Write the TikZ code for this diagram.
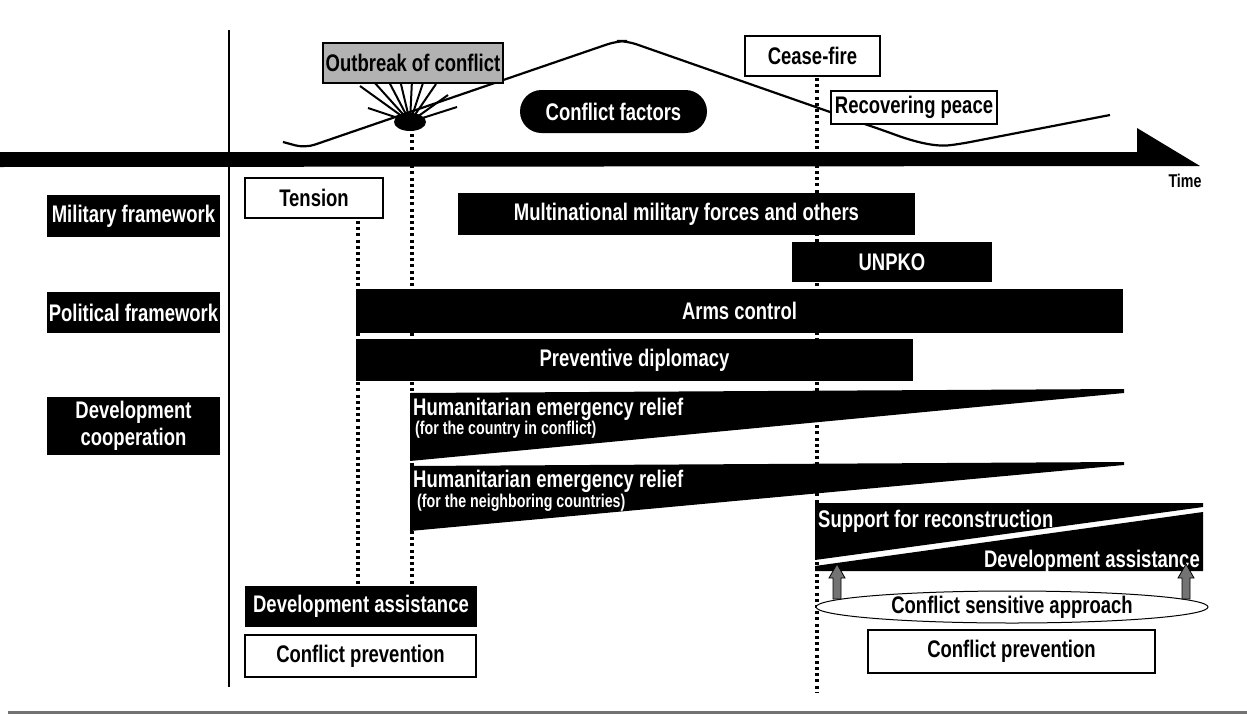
\documentclass[tikz,border=0pt]{standalone}
\usepackage{fontspec}
\setmainfont{Liberation Sans}[FakeStretch=0.77]
\usetikzlibrary{shapes.geometric}
\begin{document}
\begin{tikzpicture}[x=1pt,y=-1pt,
  every node/.style={font=\bfseries\fontsize{24}{27}\selectfont, inner sep=0pt},
  blk/.style={fill=black, text=white},
  wbox/.style={draw=black, line width=1.2pt, fill=white, text=black},
  dotline/.style={line width=3.6pt, dash pattern=on 3pt off 3.2pt, black},
  curveline/.style={line width=2.2pt, rounded corners=10pt},
  ray/.style={line width=2pt},
  wedge/.style={fill=black},
  small/.style={font=\bfseries\fontsize{18.5}{21}\selectfont},
  blockarrow/.style={fill=black!55, draw=black, line width=0.8pt}
]
\useasboundingbox (0,0) rectangle (1247,715);
\fill[white] (0,0) rectangle (1247,715);

% axes
\coordinate (axt) at (229,30); \coordinate (axb) at (229,687);
\draw[line width=2pt] (axt) -- (axb);
\coordinate (bl) at (8,712); \coordinate (br) at (1247,712);
\draw[line width=3pt, black!55] (bl) -- (br);

% dotted guide lines
\coordinate (d1t) at (358,221); \coordinate (d1b) at (358,585);
\coordinate (d2t) at (412,128); \coordinate (d2b) at (412,585);
\coordinate (d3t) at (817,78);  \coordinate (d3b) at (817,693);
\draw[dotline] (d1t) -- (d1b);
\draw[dotline] (d2t) -- (d2b);
\draw[dotline] (d3t) -- (d3b);

% time arrow
\fill (0,152) -- (1137,152) -- (1137,128) -- (1200,166) -- (0,167) -- cycle;
\node[font=\bfseries\fontsize{18.5}{21}\selectfont] (time) at (1185,181) {Time};

% conflict curve
\draw[curveline] (283,142) -- (305,148) -- (617,41) -- (627,41) -- (830,112) -- (885,131)
  .. controls (915,142) and (935,147) .. (960,144) -- (1110,115);

% starburst
\coordinate (burst) at (410,122);
\foreach \ex/\ey in {360/86, 374/82, 388/80, 400/80, 412/80, 424/80, 436/84, 448/95, 457/107, 368/108}
  \draw[ray] (burst) -- (\ex,\ey);
\fill (burst) ellipse [x radius=16, y radius=9];

% top labels
\node[draw=black, line width=1.2pt, fill=black!30, minimum width=180, minimum height=40] (outbreak) at (413,63) {Outbreak of conflict};
\node[blk, rounded corners=21.5pt, minimum width=187, minimum height=43] (factors) at (613.5,111.5) {Conflict factors};
\node[wbox, minimum width=135, minimum height=40] (cease) at (812.5,56) {Cease-fire};
\node[wbox, minimum width=166, minimum height=33] (recover) at (914,107.5) {Recovering peace};

% left category labels
\node[blk, minimum width=173, minimum height=42] (mil) at (133.5,216) {Military framework};
\node[blk, minimum width=173, minimum height=41] (pol) at (133.5,312.5) {Political framework};
\node[blk, minimum width=173, minimum height=58, align=center] (dev) at (133.5,426) {Development\\cooperation};

% bars
\node[wbox, minimum width=138, minimum height=40] (tension) at (314,198) {Tension};
\node[blk, minimum width=457, minimum height=42] (multi) at (686.5,214) {Multinational military forces and others};
\node[blk, minimum width=200, minimum height=40] (unpko) at (892,262) {UNPKO};
\node[blk, minimum width=767, minimum height=44] (arms) at (739.5,311) {Arms control};
\node[blk, minimum width=557, minimum height=42] (prev) at (634.5,360) {Preventive diplomacy};

% humanitarian wedges
\fill[wedge] (410,393) -- (1124,389) -- (1124,393) -- (410,461) -- cycle;
\node[anchor=base west, text=white] (hum1) at (413,415) {Humanitarian emergency relief};
\node[small, anchor=base west, text=white] (hum1b) at (415,434) {(for the country in conflict)};
\fill[wedge] (410,466) -- (1124,462) -- (1124,465) -- (410,531) -- cycle;
\node[anchor=base west, text=white] (hum2) at (413,487) {Humanitarian emergency relief};
\node[small, anchor=base west, text=white] (hum2b) at (417,507) {(for the neighboring countries)};

% reconstruction wedges
\fill[wedge] (815,503) -- (1203,503) -- (1203,507) -- (815,560) -- cycle;
\node[anchor=base west, text=white] (sup) at (818,527) {Support for reconstruction};
\fill[wedge] (815,566) -- (1203,512) -- (1203,571) -- (815,571) -- cycle;
\node[anchor=base east, text=white] (devas) at (1200,567) {Development assistance};

% conflict sensitive approach
\node[ellipse, draw, line width=1pt, fill=white, minimum width=392, minimum height=32] (csa) at (1012,607) {Conflict sensitive approach};
\coordinate (a1) at (837,599);
\coordinate (a2) at (1186,599);
\draw[blockarrow] (a1) ++(-4,0) -- ++(0,-21) -- ++(-4,0) -- ++(8,-14) -- ++(8,14) -- ++(-4,0) -- ++(0,21) -- cycle;
\draw[blockarrow] (a2) ++(-4,0) -- ++(0,-21) -- ++(-4,0) -- ++(8,-14) -- ++(8,14) -- ++(-4,0) -- ++(0,21) -- cycle;
\node[wbox, minimum width=287, minimum height=43] (cpright) at (1011.5,651.5) {Conflict prevention};

% bottom left
\node[blk, minimum width=232, minimum height=41] (devleft) at (361,606.5) {Development assistance};
\node[wbox, minimum width=231, minimum height=42] (cpleft) at (360.5,656) {Conflict prevention};
\end{tikzpicture}
\end{document}
